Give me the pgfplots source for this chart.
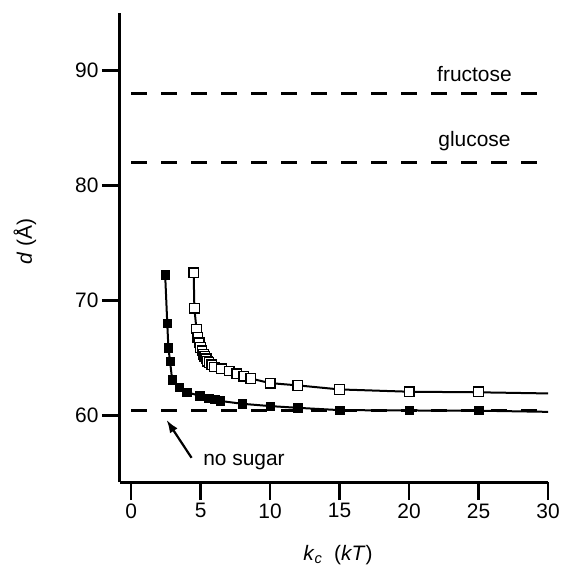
\documentclass[border=0pt]{standalone}
\usepackage{fontspec}
\setmainfont{Liberation Sans}
\usepackage{pgfplots}
\pgfplotsset{compat=1.18}
\usetikzlibrary{arrows.meta}

\newcommand{\figfont}{\fontsize{21}{25}\selectfont}

\begin{document}
\begin{tikzpicture}
% fixed page frame around the axis
\useasboundingbox (-120bp,-93bp) rectangle (443bp,482bp);
\begin{axis}[
  x=13.9bp, y=11.5bp,
  xmin=-0.8, xmax=30, ymin=54.2, ymax=95,
  axis x line*=bottom, axis y line*=left,
  axis line style={line width=3bp},
  every tick/.style={black, line width=2.5bp},
  tick align=outside,
  major tick length=18bp,
  xtick={0,5,...,30}, ytick={60,70,80,90},
  minor tick num=0,
  /pgf/number format/assume math mode=true,
  tick label style={font=\figfont},
  label style={font=\figfont},
  xlabel={\textit{k}\textsubscript{\textit{c}}\ \ (\textit{kT})},
  ylabel={\textit{d} (Å)},
  xlabel style={at={(axis description cs:0.509,-0.156)}, anchor=center},
  ylabel style={at={(axis description cs:-0.222,0.512)}, anchor=center},
  clip=false,
]

% reference spacings
\addplot[black, line width=2.5bp, dash pattern=on 16bp off 14bp] coordinates {(0,88) (30,88)};
\addplot[black, line width=2.5bp, dash pattern=on 16bp off 14bp] coordinates {(0,82) (30,82)};
\addplot[black, line width=2.5bp, dash pattern=on 16bp off 14bp] coordinates {(0,60.4) (30,60.4)};

% no sugar: fit curve and data
\addplot[black, line width=2bp, no marks] coordinates {
 (2.45,72.2) (2.6,68.0) (2.68,65.9) (2.8,64.7) (2.95,63.1) (3.45,62.45)
 (4.0,62.0) (4.95,61.7) (5.6,61.5) (6.0,61.4) (6.4,61.25) (8.0,61.0)
 (10,60.8) (12,60.65) (15,60.45) (20,60.42) (25,60.4) (30,60.3)};
\addplot[only marks, mark=square*, mark size=4.3bp, mark options={fill=black, draw=black}] coordinates {
 (2.45,72.2) (2.6,68.0) (2.68,65.9) (2.8,64.7) (2.95,63.1) (3.45,62.45)
 (4.0,62.0) (4.95,61.7) (5.6,61.5) (6.0,61.4) (6.4,61.25) (8.0,61.0)
 (10,60.8) (12,60.65) (15,60.45) (20,60.45) (25,60.45)};

% with sugar: fit curve and data
\addplot[black, line width=2bp, no marks] coordinates {
 (4.5,72.4) (4.55,69.3) (4.7,67.5) (4.8,66.8) (4.9,66.3) (5.0,65.9)
 (5.1,65.6) (5.2,65.3) (5.3,65.1) (5.4,64.9) (5.5,64.7) (5.6,64.6)
 (5.8,64.4) (6.0,64.2) (6.5,64.05) (7.05,63.85) (7.6,63.6) (8.1,63.4)
 (8.6,63.2) (10,62.8) (12,62.6) (15,62.25) (20,62.05) (25,62.0) (30,61.9)};
\addplot[only marks, mark=square*, mark size=4.8bp, mark options={fill=white, draw=black, line width=1.3bp}] coordinates {
 (4.5,72.4) (4.55,69.3) (4.7,67.5) (4.8,66.8) (4.9,66.3) (5.0,65.9)
 (5.1,65.6) (5.2,65.3) (5.3,65.1) (5.4,64.9) (5.5,64.7) (5.6,64.6)
 (5.8,64.4) (6.0,64.2) (6.5,64.05) (7.05,63.85) (7.6,63.6) (8.1,63.4)
 (8.6,63.2) (10,62.8) (12,62.6) (15,62.25) (20,62.05) (25,62.05)};

% annotations
\node[font=\figfont, anchor=base] at (axis cs:24.7,89.05) {fructose};
\node[font=\figfont, anchor=base] at (axis cs:24.7,83.35) {glucose};
\node[font=\figfont, anchor=base west, inner sep=0pt] at (axis cs:5.18,55.6) {no sugar};
\draw[line width=2.2bp, -{Latex[length=13bp,width=9bp]}] (axis cs:4.35,56.3) -- (axis cs:2.55,59.6);
\end{axis}
\end{tikzpicture}
\end{document}
